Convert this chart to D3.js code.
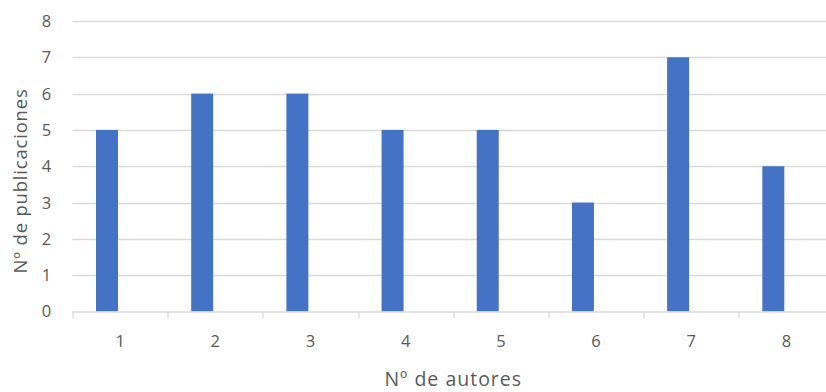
<!DOCTYPE html>
<html>
<head>
<meta charset="utf-8">
<script src="https://cdn.jsdelivr.net/npm/d3@7"></script>
<style>
  html, body { margin: 0; padding: 0; background: #fff; }
  svg { display: block; }
  text { font-family: "Open Sans", "Liberation Sans", sans-serif; fill: #595959; }
</style>
</head>
<body>
<svg id="chart" width="826" height="392"></svg>
<script>
// Number of authors per publication (categories) and count of publications
const categories = ["1", "2", "3", "4", "5", "6", "7", "8"];
const publicaciones = [5, 6, 6, 5, 5, 3, 7, 4];
const yTicks = [0, 1, 2, 3, 4, 5, 6, 7, 8];
// Two series slots per category; only the first carries values
const seriesSlots = ["publicaciones", "vacía"];

const xTitle = "Nº de autores";
const yTitle = "Nº de publicaciones";

const W = 826, H = 392;
const margin = { top: 21, right: -8, bottom: 80.5, left: 72.5 };
const plotW = W - margin.left - margin.right;
const plotH = H - margin.top - margin.bottom;

const svg = d3.select("#chart");
const g = svg.append("g").attr("transform", `translate(${margin.left},${margin.top})`);

const x = d3.scaleBand().domain(categories).range([0, plotW]).paddingInner(0).paddingOuter(0);
const xSub = d3.scaleBand().domain(seriesSlots)
  .range([x.bandwidth() * 0.247, x.bandwidth() * 0.753]).paddingInner(0.16);
const y = d3.scaleLinear().domain([0, 8]).range([plotH, 0]);

// horizontal gridlines
g.append("g")
  .selectAll("line")
  .data(yTicks.filter(d => d > 0))
  .join("line")
  .attr("x1", 0).attr("x2", plotW)
  .attr("y1", d => Math.round(y(d)) + 0.5).attr("y2", d => Math.round(y(d)) + 0.5)
  .attr("stroke", "#d9d9d9").attr("stroke-width", 1.3);

// y tick labels
g.append("g")
  .selectAll("text")
  .data(yTicks)
  .join("text")
  .attr("x", -26)
  .attr("y", d => y(d))
  .attr("dy", "0.36em")
  .attr("text-anchor", "middle")
  .attr("font-size", 16.5)
  .text(d => d);

// bars
g.append("g")
  .selectAll("rect")
  .data(categories.map((c, i) => ({ c, v: publicaciones[i] })))
  .join("rect")
  .attr("x", d => x(d.c) + xSub("publicaciones"))
  .attr("width", xSub.bandwidth())
  .attr("y", d => y(d.v))
  .attr("height", d => y(0) - y(d.v))
  .attr("fill", "#4472C4");

// x axis baseline and category tick marks
const xAxis = g.append("g").attr("transform", `translate(0,${plotH})`);
xAxis.append("line")
  .attr("x1", 0).attr("x2", plotW)
  .attr("y1", 0.5).attr("y2", 0.5)
  .attr("stroke", "#d9d9d9").attr("stroke-width", 1.3);
xAxis.selectAll("line.tick")
  .data(categories.map(c => x(c)).concat([plotW]))
  .join("line")
  .attr("class", "tick")
  .attr("x1", d => Math.round(d) + 0.5).attr("x2", d => Math.round(d) + 0.5)
  .attr("y1", 0).attr("y2", 7)
  .attr("stroke", "#d9d9d9").attr("stroke-width", 1.3);
xAxis.selectAll("text")
  .data(categories)
  .join("text")
  .attr("x", d => x(d) + x.bandwidth() / 2)
  .attr("y", 35)
  .attr("text-anchor", "middle")
  .attr("font-size", 16.5)
  .text(d => d);

// axis titles
svg.append("text")
  .attr("x", margin.left + plotW / 2)
  .attr("y", 386)
  .attr("text-anchor", "middle")
  .attr("font-size", 19.5)
  .attr("letter-spacing", 1)
  .text(xTitle);

svg.append("text")
  .attr("transform", `translate(27,181) rotate(-90)`)
  .attr("text-anchor", "middle")
  .attr("font-size", 18.5)
  .attr("letter-spacing", 0.8)
  .text(yTitle);
</script>
</body>
</html>
